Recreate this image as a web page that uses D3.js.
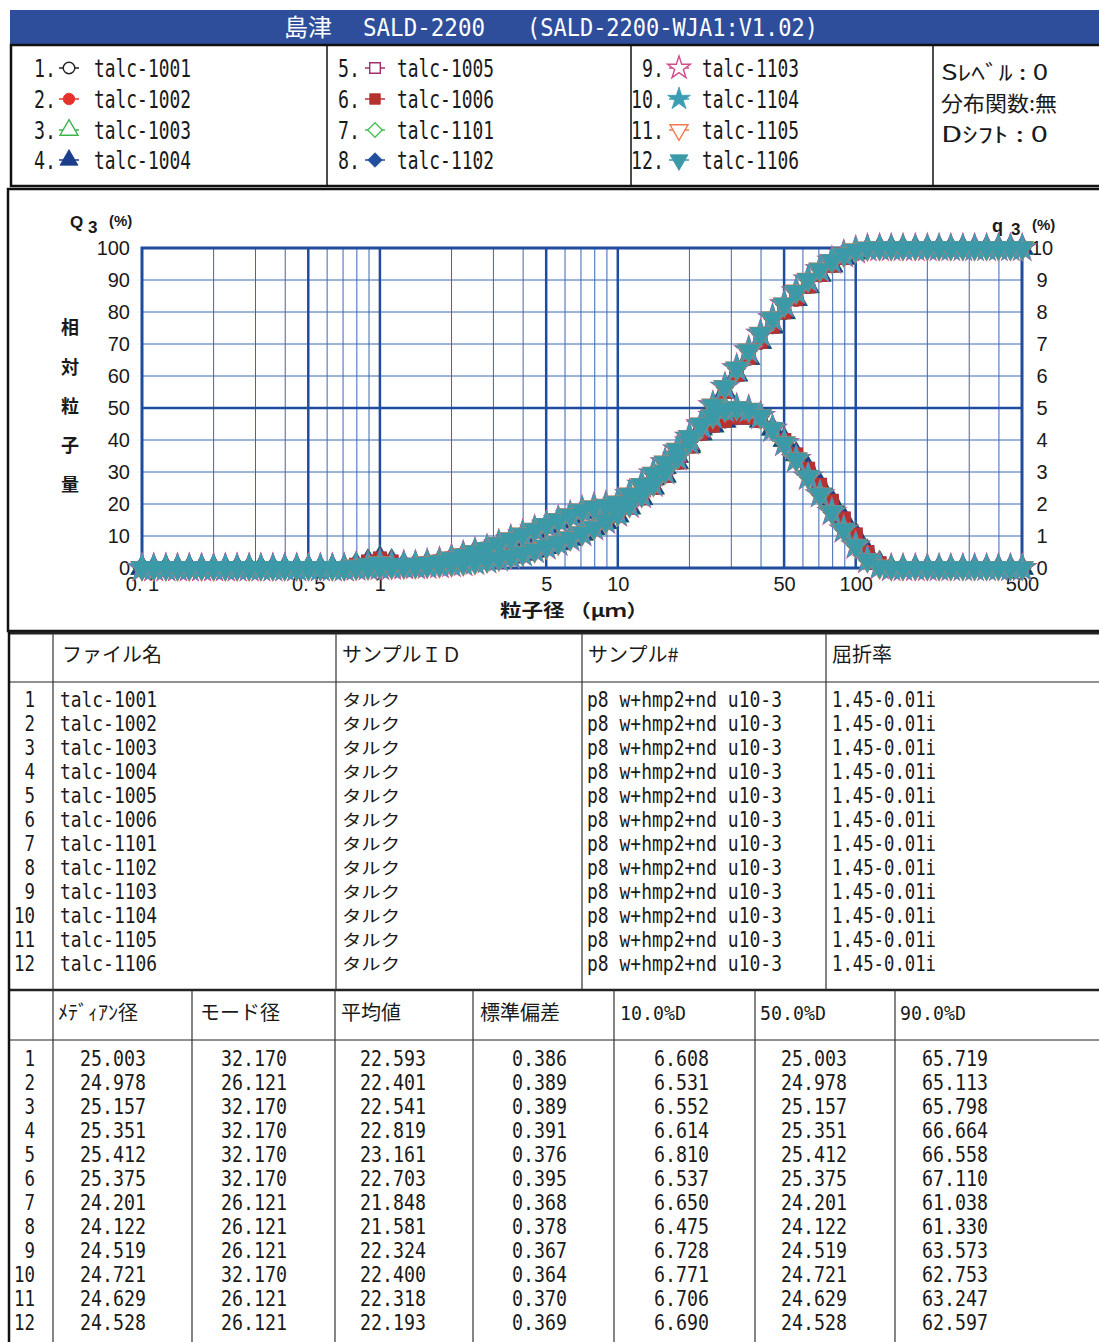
<!DOCTYPE html>
<html>
<head>
<meta charset="utf-8">
<script src="https://cdn.jsdelivr.net/npm/d3@7"></script>
<style>
body { margin: 0; background: #fff; }
svg { display: block; }
</style>
</head>
<body>
<div id="chart"></div>
<script>
// sample names (legend + table)
const names = ['talc-1001', 'talc-1002', 'talc-1003', 'talc-1004', 'talc-1005', 'talc-1006',
               'talc-1101', 'talc-1102', 'talc-1103', 'talc-1104', 'talc-1105', 'talc-1106'];

// particle size channels (um)
const sizes = [0.1, 0.112, 0.126, 0.141, 0.158, 0.178, 0.2, 0.224, 0.251, 0.282, 0.316, 0.355, 0.398, 0.447, 0.501,
  0.562, 0.631, 0.708, 0.794, 0.891, 1, 1.12, 1.26, 1.41, 1.58, 1.78, 2, 2.24, 2.51, 2.82, 3.16, 3.55, 3.98, 4.47,
  5.01, 5.62, 6.31, 7.08, 7.94, 8.91, 10, 11.2, 12.6, 14.1, 15.8, 17.8, 20, 22.4, 25.1, 28.2, 31.6, 35.5, 39.8,
  44.7, 50.1, 56.2, 63.1, 70.8, 79.4, 89.1, 100, 112, 126, 141, 158, 178, 200, 224, 251, 282, 316, 355, 398, 447, 501];

// cumulative Q3 (%) - talc-100x runs and talc-110x runs
const cumA = [0, 0, 0, 0, 0, 0, 0, 0, 0, 0, 0, 0, 0, 0, 0, 0, 0,
  0, 0.1, 0.3, 0.5, 0.7, 0.8, 0.9, 1.0, 1.2, 1.4, 1.7, 2.1, 2.5, 3.0, 3.6, 4.4, 5.4, 6.5, 7.7, 9.1,
  10.7, 12.4, 14.3, 16.4, 18.9, 21.8, 25.1, 28.8, 33.0, 38.0, 43.6, 49.4, 55.0, 60.4, 65.6, 70.6, 75.4, 79.9, 84.0, 88.0,
  91.6, 94.5, 96.9, 98.6, 99.6, 100,
  100, 100, 100, 100, 100, 100, 100, 100, 100, 100, 100, 100];
const cumB = [0, 0, 0, 0, 0, 0, 0, 0, 0, 0, 0, 0, 0, 0, 0, 0, 0,
  0, 0.1, 0.2, 0.3, 0.4, 0.5, 0.6, 0.7, 0.9, 1.2, 1.5, 1.9, 2.4, 3.0, 3.7, 4.6, 5.6, 6.7, 7.9, 9.3,
  10.9, 12.7, 14.7, 17.0, 19.7, 22.8, 26.3, 30.2, 34.6, 39.5, 44.9, 50.8, 56.6, 62.4, 68.0, 73.2, 78.0, 82.4, 86.4, 90.1,
  93.3, 96.0, 98.0, 99.3, 99.9, 100,
  100, 100, 100, 100, 100, 100, 100, 100, 100, 100, 100, 100];

// frequency q3 (%)
const freqA = [0, 0, 0, 0, 0, 0, 0, 0, 0, 0, 0, 0, 0, 0, 0, 0, 0,
  0, 0.1, 0.2, 0.3, 0.2, 0.1, 0.1, 0.15, 0.2, 0.3, 0.4, 0.5, 0.6, 0.7, 0.85, 1.0, 1.15, 1.3, 1.45, 1.6,
  1.75, 1.85, 1.9, 2.0, 2.2, 2.5, 2.8, 3.15, 3.5, 3.85, 4.2, 4.45, 4.6, 4.7, 4.7, 4.6, 4.35, 4.0, 3.55, 3.1,
  2.6, 2.1, 1.55, 1.05, 0.5, 0.15,
  0, 0, 0, 0, 0, 0, 0, 0, 0, 0, 0, 0];
const freqB = [0, 0, 0, 0, 0, 0, 0, 0, 0, 0, 0, 0, 0, 0, 0, 0, 0,
  0, 0.05, 0.1, 0.15, 0.1, 0.1, 0.1, 0.15, 0.2, 0.3, 0.4, 0.5, 0.6, 0.75, 0.9, 1.05, 1.2, 1.35, 1.5, 1.65,
  1.8, 1.9, 1.95, 2.05, 2.3, 2.6, 2.95, 3.3, 3.7, 4.1, 4.45, 4.75, 4.95, 5.0, 4.95, 4.75, 4.35, 3.9, 3.4, 2.85,
  2.3, 1.75, 1.2, 0.7, 0.25, 0.05,
  0, 0, 0, 0, 0, 0, 0, 0, 0, 0, 0, 0];

const cumulative = [cumA, cumA, cumA, cumA, cumA, cumA, cumB, cumB, cumB, cumB, cumB, cumB];
const frequency = [freqA, freqA, freqA, freqA, freqA, freqA, freqB, freqB, freqB, freqB, freqB, freqB];

// axis ticks
const xTicks = [0.1, 0.5, 1, 5, 10, 50, 100, 500];
const xTickLabels = ['0. 1', '0. 5', '1', '5', '10', '50', '100', '500'];
const xMinor = [0.2, 0.3, 0.4, 0.6, 0.7, 0.8, 0.9, 2, 3, 4, 6, 7, 8, 9, 20, 30, 40, 60, 70, 80, 90, 200, 300, 400];
const xMajor = [0.5, 1, 5, 10, 50, 100];
const yTicksLeft = [0, 10, 20, 30, 40, 50, 60, 70, 80, 90, 100];
const yTicksRight = [0, 1, 2, 3, 4, 5, 6, 7, 8, 9, 10];

// table values
const sampleIds = ['タルク', 'タルク', 'タルク', 'タルク', 'タルク', 'タルク', 'タルク', 'タルク', 'タルク', 'タルク', 'タルク', 'タルク'];
const sampleNos = ['p8 w+hmp2+nd u10-3', 'p8 w+hmp2+nd u10-3', 'p8 w+hmp2+nd u10-3', 'p8 w+hmp2+nd u10-3',
  'p8 w+hmp2+nd u10-3', 'p8 w+hmp2+nd u10-3', 'p8 w+hmp2+nd u10-3', 'p8 w+hmp2+nd u10-3',
  'p8 w+hmp2+nd u10-3', 'p8 w+hmp2+nd u10-3', 'p8 w+hmp2+nd u10-3', 'p8 w+hmp2+nd u10-3'];
const refIndex = ['1.45-0.01i', '1.45-0.01i', '1.45-0.01i', '1.45-0.01i', '1.45-0.01i', '1.45-0.01i',
  '1.45-0.01i', '1.45-0.01i', '1.45-0.01i', '1.45-0.01i', '1.45-0.01i', '1.45-0.01i'];
const medians = [25.003, 24.978, 25.157, 25.351, 25.412, 25.375, 24.201, 24.122, 24.519, 24.721, 24.629, 24.528];
const modes = [32.170, 26.121, 32.170, 32.170, 32.170, 32.170, 26.121, 26.121, 26.121, 32.170, 26.121, 26.121];
const means = [22.593, 22.401, 22.541, 22.819, 23.161, 22.703, 21.848, 21.581, 22.324, 22.400, 22.318, 22.193];
const stdDevs = [0.386, 0.389, 0.389, 0.391, 0.376, 0.395, 0.368, 0.378, 0.367, 0.364, 0.370, 0.369];
const d10 = [6.608, 6.531, 6.552, 6.614, 6.810, 6.537, 6.650, 6.475, 6.728, 6.771, 6.706, 6.690];
const d50 = [25.003, 24.978, 25.157, 25.351, 25.412, 25.375, 24.201, 24.122, 24.519, 24.721, 24.629, 24.528];
const d90 = [65.719, 65.113, 65.798, 66.664, 66.558, 67.110, 61.038, 61.330, 63.573, 62.753, 63.247, 62.597];

// marker styles
const colors = ['#222222', '#e5322d', '#3bb54a', '#1c3d8c', '#a1306c', '#b5332e',
                '#48c057', '#1f4f9e', '#d24d8c', '#3b9db2', '#ee7b4b', '#3c99a8'];
const filled = [false, true, false, true, false, true, false, true, false, true, false, true];
const symTypes = [d3.symbolCircle, d3.symbolCircle, d3.symbolTriangle, d3.symbolTriangle, d3.symbolSquare, d3.symbolSquare,
                  d3.symbolSquare, d3.symbolSquare, d3.symbolStar, d3.symbolStar, d3.symbolTriangle, d3.symbolTriangle];
const symRot = [0, 0, 0, 0, 0, 0, 45, 45, 0, 0, 180, 180];
const symSize = [150, 150, 200, 200, 160, 160, 150, 150, 230, 230, 200, 200];

const MONO = "'DejaVu Sans Mono', 'Liberation Mono', monospace";
const JP = "'Noto Sans CJK JP', 'Noto Sans', sans-serif";
const SANS = "'Liberation Sans', Arial, sans-serif";

const svg = d3.select('#chart').append('svg')
    .attr('width', 1099)
    .attr('height', 1342);

function label(g, x, y, s, font, size, opts = {}) {
    const t = g.append('text')
        .attr('x', x).attr('y', y)
        .style('font-family', font)
        .style('font-size', size + 'px')
        .attr('fill', opts.fill || '#1a1a1a')
        .text(s);
    if (opts.len) t.attr('textLength', opts.len).attr('lengthAdjust', 'spacingAndGlyphs');
    if (opts.anchor) t.attr('text-anchor', opts.anchor);
    if (opts.weight) t.style('font-weight', opts.weight);
    return t;
}

function marker(g, i, x, y, scale = 1) {
    g.append('path')
        .attr('d', d3.symbol().type(symTypes[i]).size(symSize[i] * scale)())
        .attr('transform', `translate(${x},${y}) rotate(${symRot[i]})`)
        .attr('fill', filled[i] ? colors[i] : '#fff')
        .attr('stroke', colors[i])
        .attr('stroke-width', filled[i] ? 0.8 : 1.4);
}

// ---- header bar
svg.append('rect')
    .attr('x', 10).attr('y', 10).attr('width', 1089).attr('height', 34)
    .attr('fill', '#2e4e9c');
label(svg, 284, 36, '島津', JP, 24, { fill: '#fff' });
label(svg, 363, 36, 'SALD-2200', MONO, 25, { fill: '#fff', len: 122 });
label(svg, 527, 36, '(SALD-2200-WJA1:V1.02)', MONO, 25, { fill: '#fff', len: 291 });

// ---- legend box
svg.append('rect')
    .attr('x', 11).attr('y', 45).attr('width', 1095).attr('height', 141)
    .attr('fill', 'none').attr('stroke', '#111').attr('stroke-width', 2.5);
[327, 631, 933].forEach(xv => {
    svg.append('line').attr('x1', xv).attr('x2', xv).attr('y1', 45).attr('y2', 186)
        .attr('stroke', '#111').attr('stroke-width', 1.5);
});

const legCols = [{ num: 56, mk: 69, txt: 94 }, { num: 360, mk: 375, txt: 397 }, { num: 664, mk: 679, txt: 702 }];
const legRows = [68, 99, 130, 160];
names.forEach((n, i) => {
    const c = legCols[Math.floor(i / 4)];
    const cy = legRows[i % 4];
    const num = (i + 1) + '.';
    label(svg, c.num, cy + 9, num, MONO, 25, { anchor: 'end', len: num.length * 11 });
    svg.append('line').attr('x1', c.mk - 10).attr('x2', c.mk + 10).attr('y1', cy).attr('y2', cy)
        .attr('stroke', colors[i]).attr('stroke-width', 1.5);
    marker(svg, i, c.mk, cy, 0.7);
    label(svg, c.txt, cy + 9, n, MONO, 25, { len: 97 });
});
label(svg, 941, 80, 'Sﾚﾍﾞﾙ : 0', JP, 21, { len: 107 });
label(svg, 941, 111, '分布関数:無', JP, 21, { len: 116 });
label(svg, 941, 142, 'Dｼﾌﾄ  : 0', JP, 21, { len: 107 });

// ---- chart box
svg.append('rect')
    .attr('x', 8).attr('y', 189).attr('width', 1100).attr('height', 442)
    .attr('fill', 'none').attr('stroke', '#111').attr('stroke-width', 2.5);

const x = d3.scaleLog().domain([0.1, 500]).range([142, 1022]);
const yL = d3.scaleLinear().domain([0, 100]).range([568, 248]);
const yR = d3.scaleLinear().domain([0, 10]).range([568, 248]);

const grid = svg.append('g');
grid.selectAll('line.vminor').data(xMinor).join('line')
    .attr('x1', d => x(d)).attr('x2', d => x(d)).attr('y1', yL(0)).attr('y2', yL(100))
    .attr('stroke', '#3d66b3').attr('stroke-width', 1);
grid.selectAll('line.hminor').data(yTicksLeft.filter(d => d !== 50)).join('line')
    .attr('x1', x(0.1)).attr('x2', x(500)).attr('y1', d => yL(d)).attr('y2', d => yL(d))
    .attr('stroke', '#3d66b3').attr('stroke-width', 1);
grid.selectAll('line.vmajor').data(xMajor).join('line')
    .attr('x1', d => x(d)).attr('x2', d => x(d)).attr('y1', yL(0)).attr('y2', yL(100))
    .attr('stroke', '#1e4c9e').attr('stroke-width', 2.5);
grid.append('line')
    .attr('x1', x(0.1)).attr('x2', x(500)).attr('y1', yL(50)).attr('y2', yL(50))
    .attr('stroke', '#1e4c9e').attr('stroke-width', 2.5);
grid.append('rect')
    .attr('x', x(0.1)).attr('y', yL(100)).attr('width', x(500) - x(0.1)).attr('height', yL(0) - yL(100))
    .attr('fill', 'none').attr('stroke', '#1e4c9e').attr('stroke-width', 3);

// axes
const axL = svg.append('g').attr('transform', `translate(${x(0.1)},0)`)
    .call(d3.axisLeft(yL).tickValues(yTicksLeft).tickSize(0).tickPadding(12));
const axR = svg.append('g').attr('transform', `translate(${x(500)},0)`)
    .call(d3.axisRight(yR).tickValues(yTicksRight).tickSize(0).tickPadding(20));
const axB = svg.append('g').attr('transform', `translate(0,${yL(0)})`)
    .call(d3.axisBottom(x).tickValues(xTicks).tickFormat((d, i) => xTickLabels[i]).tickSize(0).tickPadding(9));
[axL, axR, axB].forEach(a => {
    a.select('.domain').remove();
    a.selectAll('text').style('font-family', SANS).style('font-size', '20px').attr('fill', '#1a1a1a');
});
axR.selectAll('text').attr('text-anchor', 'middle');

// axis captions
label(svg, 70, 228, 'Q', SANS, 17, { weight: 'bold' });
label(svg, 88, 233, '3', SANS, 17, { weight: 'bold' });
label(svg, 109, 226, '(%)', SANS, 15, { weight: 'bold' });
label(svg, 992, 232, 'q', SANS, 18, { weight: 'bold' });
label(svg, 1011, 235, '3', SANS, 17, { weight: 'bold' });
label(svg, 1032, 230, '(%)', SANS, 15, { weight: 'bold' });
['相', '対', '粒', '子', '量'].forEach((ch, i) => {
    label(svg, 70, [327, 367, 406, 445, 484][i] + 7, ch, JP, 18, { anchor: 'middle', weight: 'bold' });
});
label(svg, 500, 617, '粒子径 （μｍ）', JP, 18, { len: 148, weight: 'bold' });

// ---- data series
const plot = svg.append('g');
names.forEach((n, i) => {
    [[cumulative[i], yL], [frequency[i], yR]].forEach(([vals, ys]) => {
        const pts = sizes.map((s, k) => [x(s), ys(vals[k])]);
        plot.append('path')
            .attr('d', d3.line()(pts))
            .attr('fill', 'none')
            .attr('stroke', colors[i])
            .attr('stroke-width', 1.2);
        plot.selectAll(null).data(pts).join('path')
            .attr('d', d3.symbol().type(symTypes[i]).size(symSize[i])())
            .attr('transform', d => `translate(${d[0]},${d[1]}) rotate(${symRot[i]})`)
            .attr('fill', filled[i] ? colors[i] : '#fff')
            .attr('stroke', colors[i])
            .attr('stroke-width', filled[i] ? 0.8 : 1.4);
    });
});

// ---- tables
const tbl = svg.append('g');
function hline(y, w) {
    tbl.append('line').attr('x1', 8).attr('x2', 1099).attr('y1', y).attr('y2', y)
        .attr('stroke', '#222').attr('stroke-width', w);
}
function vline(xv, y1, y2) {
    tbl.append('line').attr('x1', xv).attr('x2', xv).attr('y1', y1).attr('y2', y2)
        .attr('stroke', '#333').attr('stroke-width', 1.2);
}
hline(633, 3);
hline(682, 1);
hline(990, 2.5);
hline(1040, 1);
tbl.append('line').attr('x1', 9).attr('x2', 9).attr('y1', 632).attr('y2', 1342)
    .attr('stroke', '#111').attr('stroke-width', 2.5);
[53, 336, 582, 826].forEach(xv => vline(xv, 633, 990));
[53, 192, 335, 473, 614, 755, 895].forEach(xv => vline(xv, 990, 1342));

// table 1
label(tbl, 62, 662, 'ファイル名', JP, 20);
label(tbl, 342, 662, 'サンプルＩＤ', JP, 20);
label(tbl, 588, 662, 'サンプル#', JP, 20);
label(tbl, 832, 662, '屈折率', JP, 20);
names.forEach((n, i) => {
    const y = 707 + 24 * i;
    const no = String(i + 1);
    label(tbl, 35, y, no, MONO, 21, { anchor: 'end', len: no.length * 10.5 });
    label(tbl, 60, y, n, MONO, 21, { len: 97 });
    label(tbl, 342, y - 1, sampleIds[i], JP, 16, { len: 58 });
    label(tbl, 587, y, sampleNos[i], MONO, 21, { len: 195 });
    label(tbl, 832, y, refIndex[i], MONO, 21, { len: 104 });
});

// table 2
const heads2 = [['ﾒﾃﾞｨｱﾝ径', 58, JP], ['モード径', 200, JP], ['平均値', 341, JP], ['標準偏差', 480, JP],
                ['10.0%D', 620, MONO], ['50.0%D', 760, MONO], ['90.0%D', 900, MONO]];
heads2.forEach(([t, xv, f]) => {
    if (f === MONO) label(tbl, xv, 1020, t, f, 20, { len: 66 });
    else label(tbl, xv, 1020, t, f, 20);
});
const cols2 = [[medians, 146], [modes, 287], [means, 426], [stdDevs, 567], [d10, 709], [d50, 847], [d90, 988]];
names.forEach((n, i) => {
    const y = 1066 + 24 * i;
    const no = String(i + 1);
    label(tbl, 35, y, no, MONO, 21, { anchor: 'end', len: no.length * 10.5 });
    cols2.forEach(([vals, right]) => {
        const s = vals[i].toFixed(3);
        label(tbl, right, y, s, MONO, 21, { anchor: 'end', len: s.length * 11 });
    });
});
</script>
</body>
</html>
